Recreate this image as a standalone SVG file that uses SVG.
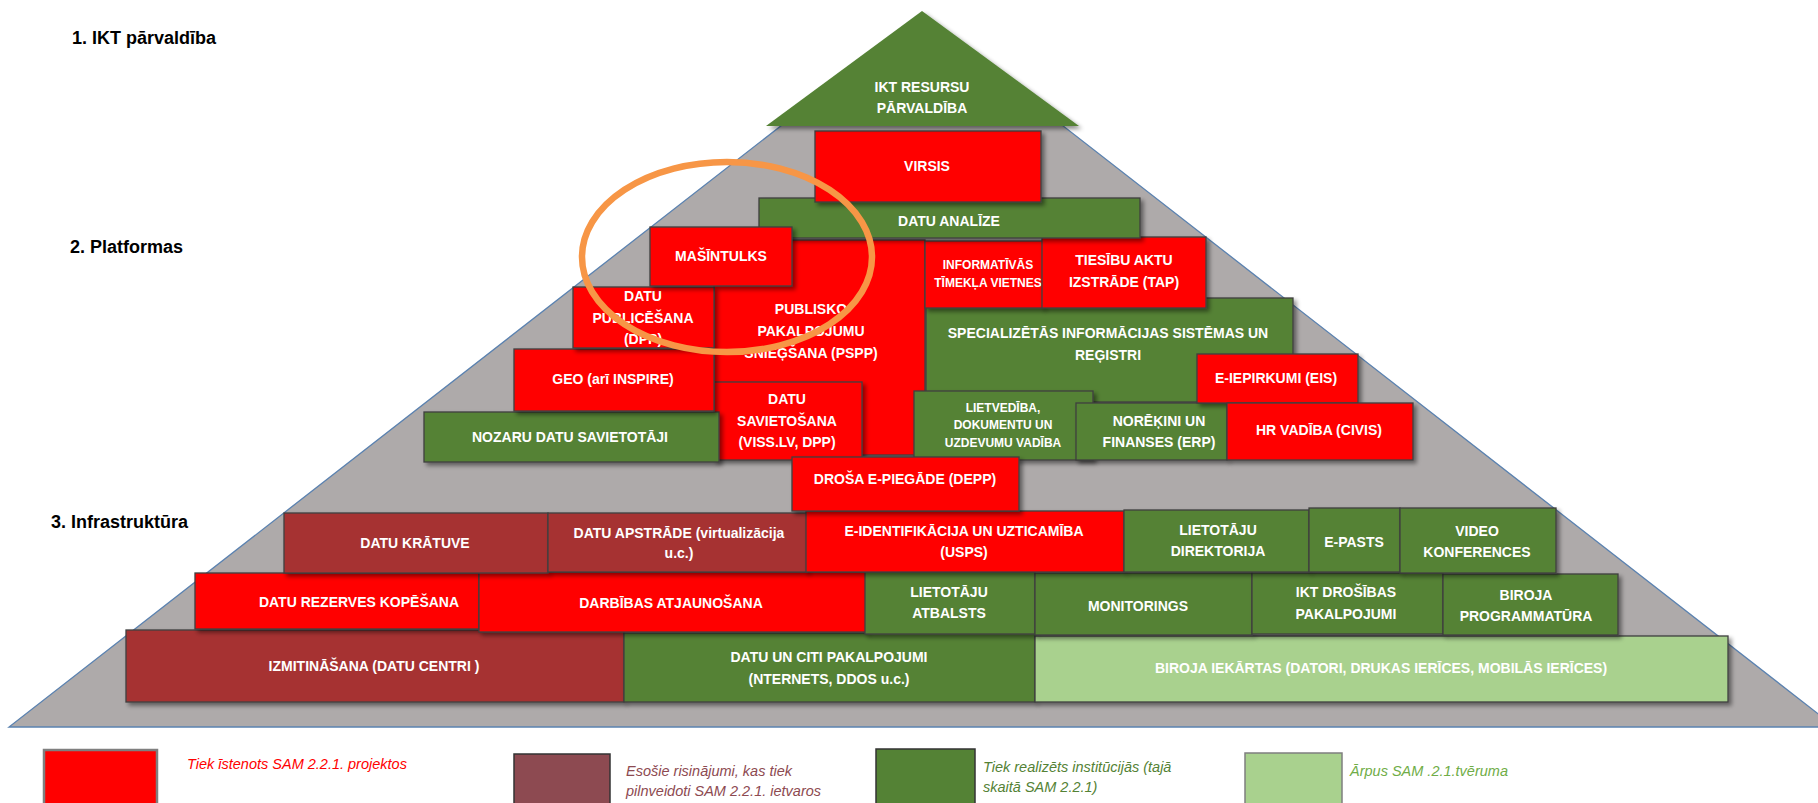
<svg xmlns="http://www.w3.org/2000/svg" width="1818" height="803" viewBox="0 0 1818 803">
<defs>
<filter id="sh" x="-10%" y="-15%" width="125%" height="140%">
<feDropShadow dx="3" dy="3" stdDeviation="2" flood-color="#000" flood-opacity="0.45"/>
</filter>
</defs>
<style>
.box{stroke:#3f3f3f;stroke-width:1.3;filter:url(#sh)}
.red{fill:#ff0000}
.grn{fill:#548235}
.mar{fill:#a63232}
.lgr{fill:#a9d18e}
.t{font-family:"Liberation Sans",Arial,sans-serif;font-weight:bold;font-size:14px;fill:#ffffff;text-anchor:middle}
.s{font-size:12px}
.h{font-family:"Liberation Sans",Arial,sans-serif;font-weight:bold;font-size:18px;fill:#000}
.lt{font-family:"Liberation Sans",Arial,sans-serif;font-style:italic;font-size:14.5px}
</style>
<rect width="1818" height="803" fill="#ffffff"/>

<g id="labels">
<text class="h" x="72" y="44">1. IKT pārvaldība</text>
<text class="h" x="70" y="253">2. Platformas</text>
<text class="h" x="51" y="528">3. Infrastruktūra</text>
</g>

<g id="pyramid">
<polygon points="922,16 9,727 1835,727" fill="#aeaaaa" stroke="#5b82b0" stroke-width="1.3"/>
</g>

<g id="row5">
<g id="izmitinasana"><rect class="box mar" x="126" y="630" width="498" height="72"/><text class="t" x="374" y="671">IZMITINĀŠANA (DATU  CENTRI )</text></g>
<g id="datu-un-citi"><rect class="box grn" x="624" y="633" width="411" height="69"/><text class="t" x="829" y="662">DATU UN CITI PAKALPOJUMI</text><text class="t" x="829" y="684">(NTERNETS,  DDOS u.c.)</text></g>
<g id="biroja-iekartas"><rect class="box lgr" x="1035" y="636" width="693" height="66"/><text class="t" x="1381" y="673">BIROJA IEKĀRTAS  (DATORI, DRUKAS IERĪCES, MOBILĀS IERĪCES)</text></g>
</g>

<g id="row4">
<g id="datu-rezerves"><rect class="box red" x="195" y="573" width="284" height="56"/><text class="t" x="359" y="607">DATU REZERVES  KOPĒŠANA</text></g>
<g id="darbibas"><rect class="box red" x="479" y="572" width="387" height="60"/><text class="t" x="671" y="608">DARBĪBAS ATJAUNOŠANA</text></g>
<g id="lietotaju-atbalsts"><rect class="box grn" x="865" y="572" width="170" height="62"/><text class="t" x="949" y="597">LIETOTĀJU</text><text class="t" x="949" y="618">ATBALSTS</text></g>
<g id="monitorings"><rect class="box grn" x="1035" y="573" width="217" height="62"/><text class="t" x="1138" y="611">MONITORINGS</text></g>
<g id="ikt-drosibas"><rect class="box grn" x="1252" y="573" width="191" height="61"/><text class="t" x="1346" y="597">IKT DROŠĪBAS</text><text class="t" x="1346" y="619">PAKALPOJUMI</text></g>
<g id="biroja-programmatura"><rect class="box grn" x="1443" y="574" width="175" height="61"/><text class="t" x="1526" y="600">BIROJA</text><text class="t" x="1526" y="621">PROGRAMMATŪRA</text></g>
</g>

<g id="row3">
<g id="datu-kratuve"><rect class="box mar" x="284" y="513" width="264" height="60"/><text class="t" x="415" y="548">DATU KRĀTUVE</text></g>
<g id="datu-apstrade"><rect class="box mar" x="548" y="513" width="259" height="59"/><text class="t" x="679" y="538">DATU APSTRĀDE  (virtualizācija</text><text class="t" x="679" y="558">u.c.)</text></g>
<g id="e-identifikacija"><rect class="box red" x="806" y="511" width="318" height="61"/><text class="t" x="964" y="536">E-IDENTIFIKĀCIJA UN UZTICAMĪBA</text><text class="t" x="964" y="557">(USPS)</text></g>
<g id="lietotaju-direktorija"><rect class="box grn" x="1124" y="510" width="185" height="62"/><text class="t" x="1218" y="535">LIETOTĀJU</text><text class="t" x="1218" y="556">DIREKTORIJA</text></g>
<g id="e-pasts"><rect class="box grn" x="1309" y="508" width="91" height="64"/><text class="t" x="1354" y="547">E-PASTS</text></g>
<g id="video-konferences"><rect class="box grn" x="1400" y="508" width="156" height="65"/><text class="t" x="1477" y="536">VIDEO</text><text class="t" x="1477" y="557">KONFERENCES</text></g>
</g>

<g id="platforms">
<g id="pspp"><rect class="box red" x="714" y="240" width="211" height="215"/><text class="t" x="811" y="314">PUBLISKO</text><text class="t" x="811" y="336">PAKALPOJUMU</text><text class="t" x="811" y="358">SNIEĢŠANA (PSPP)</text></g>
<g id="datu-savietosana"><rect class="box red" x="714" y="382" width="148" height="78"/><text class="t" x="787" y="404">DATU</text><text class="t" x="787" y="426">SAVIETOŠANA</text><text class="t" x="787" y="447">(VISS.LV, DPP)</text></g>
<g id="nozaru"><rect class="box grn" x="424" y="412" width="295" height="50"/><text class="t" x="570" y="442">NOZARU DATU  SAVIETOTĀJI</text></g>
<g id="geo"><rect class="box red" x="514" y="349" width="200" height="62"/><text class="t" x="613" y="384">GEO (arī INSPIRE)</text></g>
<g id="dpp"><rect class="box red" x="573" y="287" width="141" height="61"/><text class="t" x="643" y="301">DATU</text><text class="t" x="643" y="323">PUBLICĒŠANA</text><text class="t" x="643" y="344">(DPP)</text></g>
<g id="specializetas"><rect class="box grn" x="926" y="298" width="367" height="104"/><text class="t" x="1108" y="338">SPECIALIZĒTĀS INFORMĀCIJAS SISTĒMAS  UN</text><text class="t" x="1108" y="360">REĢISTRI</text></g>
<g id="lietvediba"><rect class="box grn" x="914" y="391" width="179" height="69"/><text class="t s" x="1003" y="412">LIETVEDĪBA,</text><text class="t s" x="1003" y="429">DOKUMENTU UN</text><text class="t s" x="1003" y="447">UZDEVUMU VADĪBA</text></g>
<g id="norekini"><rect class="box grn" x="1076" y="403" width="151" height="57"/><text class="t" x="1159" y="426">NORĒĶINI UN</text><text class="t" x="1159" y="447">FINANSES (ERP)</text></g>
<g id="e-iepirkumi"><rect class="box red" x="1197" y="354" width="161" height="49"/><text class="t" x="1276" y="383">E-IEPIRKUMI  (EIS)</text></g>
<g id="hr-vadiba"><rect class="box red" x="1227" y="403" width="186" height="57"/><text class="t" x="1319" y="435">HR VADĪBA (CIVIS)</text></g>
<g id="drosa-e-piegade"><rect class="box red" x="792" y="457" width="227" height="54"/><text class="t" x="905" y="484">DROŠA E-PIEGĀDE  (DEPP)</text></g>
<g id="informativas"><rect class="box red" x="925" y="241" width="118" height="67"/><text class="t s" x="988" y="269">INFORMATĪVĀS</text><text class="t s" x="988" y="287">TĪMEKĻA VIETNES</text></g>
<g id="tiesibu-aktu"><rect class="box red" x="1042" y="237" width="164" height="71"/><text class="t" x="1124" y="265">TIESĪBU AKTU</text><text class="t" x="1124" y="287">IZSTRĀDE (TAP)</text></g>
<g id="datu-analize"><rect class="box grn" x="759" y="198" width="381" height="40"/><text class="t" x="949" y="226">DATU ANALĪZE</text></g>
<g id="masintulks"><rect class="box red" x="650" y="227" width="142" height="59"/><text class="t" x="721" y="261">MAŠĪNTULKS</text></g>
<g id="virsis"><rect class="box red" x="815" y="131" width="226" height="71"/><text class="t" x="927" y="171">VIRSIS</text></g>
</g>

<g id="ikt-resursu">
<polygon points="922,11 766,126 1079,126" fill="#548235" style="filter:url(#sh)"/>
<text class="t" x="922" y="92" font-size="13.5">IKT RESURSU</text>
<text class="t" x="922" y="113" font-size="13.5">PĀRVALDĪBA</text>
</g>

<g id="highlight">
<ellipse cx="727" cy="257" rx="145" ry="95" fill="none" stroke="#f79646" stroke-width="6.5"/>
</g>

<g id="legend">
<rect x="44" y="750" width="113" height="70" fill="#ff0000" stroke="#7f7f7f" stroke-width="2.5"/>
<text class="lt" x="187" y="769" fill="#ff0000">Tiek īstenots SAM 2.2.1. projektos</text>
<rect x="514" y="754" width="96" height="70" fill="#8d4a51" stroke="#333" stroke-width="1.5"/>
<text class="lt" x="626" y="776" fill="#8d4a51">Esošie risinājumi, kas tiek</text>
<text class="lt" x="626" y="796" fill="#8d4a51">pilnveidoti SAM 2.2.1. ietvaros</text>
<rect x="876" y="749" width="99" height="70" fill="#548235" stroke="#333" stroke-width="1.5"/>
<text class="lt" x="983" y="772" fill="#548235">Tiek realizēts institūcijās  (tajā</text>
<text class="lt" x="983" y="792" fill="#548235">skaitā SAM  2.2.1)</text>
<rect x="1245" y="753" width="97" height="70" fill="#a9d18e" stroke="#7f7f7f" stroke-width="1.5"/>
<text class="lt" x="1350" y="776" fill="#70ad47">Ārpus SAM .2.1.tvēruma</text>
</g>
</svg>
